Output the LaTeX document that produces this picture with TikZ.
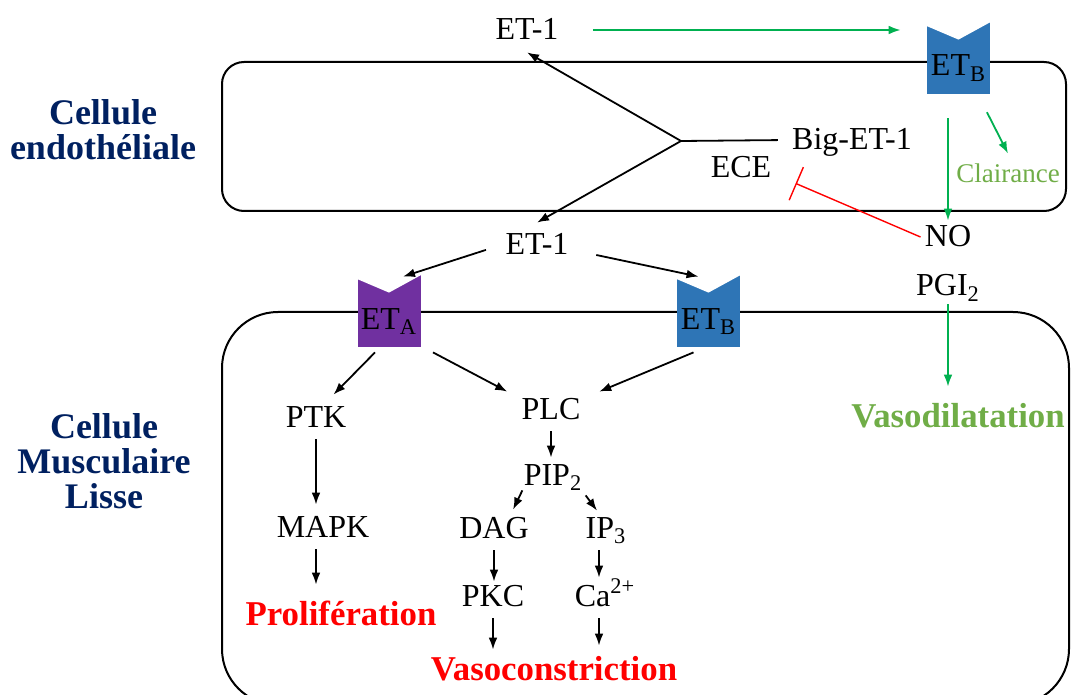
\documentclass[tikz,border=0pt]{standalone}
\usepackage{fontspec}
\setmainfont{Liberation Serif}
\usepackage{tikz}
\usetikzlibrary{arrows.meta}

\definecolor{bleurec}{HTML}{2E75B6}
\definecolor{violetrec}{HTML}{7030A0}
\definecolor{marine}{HTML}{002060}
\definecolor{vertfl}{HTML}{00B050}
\definecolor{vertclair}{HTML}{70AD47}
\definecolor{rouge}{HTML}{FF0000}

\begin{document}
\begin{tikzpicture}[x=0.5pt,y=-0.5pt,
    mol/.style={font=\fontsize{16}{19}\selectfont, anchor=base, inner xsep=2pt, inner ysep=6pt, text height=10pt, text depth=0pt},
    fin/.style={font=\fontsize{17.4}{20}\selectfont\bfseries, anchor=base, inner xsep=2pt, inner ysep=9pt, text height=11pt, text depth=0pt},
    cellule/.style={font=\fontsize{18}{17.5}\selectfont\bfseries, text=marine, align=center},
    recep/.style={fill=#1, anchor=base, font=\fontsize{16}{19}\selectfont, minimum width=31.5pt, inner sep=0pt, text height=27pt, text depth=9pt},
    membrane/.style={line width=1pt},
    trait/.style={line width=0.9pt},
    fl/.style={line width=0.9pt, -{Latex[length=6pt,width=4.4pt]}},
    vert/.style={line width=0.9pt, vertfl, -{Latex[length=6pt,width=4.4pt]}},
    inhib/.style={line width=0.7pt, rouge, -{Bar[width=18pt]}}]
    \clip (0,0) rectangle (1071,695);

    % membranes
    \draw[membrane, rounded corners=11pt] (222,62) rectangle (1066,211);
    \draw[membrane, rounded corners=28pt] (222,312) rectangle (1069,705);

    % recepteurs
    \node[recep=bleurec] (etbh) at (958.5,76) {ET\textsubscript{B}};
    \node[recep=violetrec] (eta) at (389,329) {ET\textsubscript{A}};
    \node[recep=bleurec] (etb) at (708.5,329) {ET\textsubscript{B}};
    \foreach \r in {etbh,eta,etb}
      \fill[white] ([shift={(-1,-1)}]\r.north west) -- ([shift={(-1,4)}]\r.north west)
        -- ([shift={(0,18)}]\r.north) -- ([shift={(1,0)}]\r.north east) -- ([shift={(1,-1)}]\r.north east) -- cycle;

    \node[cellule] (endo) at (103,130) {Cellule\\endothéliale};
    \node[cellule] (musc) at (104,461) {Cellule\\Musculaire\\Lisse};

    \node[mol] (et1h) at (527,40) {ET-1};
    \node[mol] (big) at (852,150) {Big-ET-1};
    \node[mol] (ece) at (741,178) {ECE};
    \node[mol] (et1b) at (537,255) {ET-1};
    \node[mol] (no) at (948,247) {NO};
    \node[mol] (pgi) at (948,296) {PGI\textsubscript{2}};
    \node[mol, font=\fontsize{13.5}{16}\selectfont, text height=8.5pt, text=vertclair] (clair) at (1008,183) {Clairance};
    \node[fin, text=vertclair] (vdil) at (958,427) {Vasodilatation};

    \node[mol] (ptk) at (316,427) {PTK};
    \node[mol] (mapk) at (323,537) {MAPK};
    \node[fin, text=rouge] (prolif) at (341,625) {Prolifération};
    \node[mol] (plc) at (551,419) {PLC};
    \node[mol] (pip) at (553,485) {PIP\textsubscript{2}};
    \node[mol] (dag) at (494,538) {DAG};
    \node[mol] (ip) at (606,538) {IP\textsubscript{3}};
    \node[mol] (pkc) at (493,606) {PKC};
    \node[mol] (ca) at (605,606) {Ca\textsuperscript{2+}};
    \node[fin, text=rouge] (vcon) at (554,680) {Vasoconstriction};

    % cellule endotheliale
    \coordinate (jn) at (681,141);
    \draw[vert, shorten <=15pt, shorten >=13pt] (et1h.east) -- (et1h.east -| etbh.west);
    \draw[trait, shorten <=5pt] (big.west) -- (jn);
    \draw[fl] (jn) -- (et1h.south);
    \draw[fl] (jn) -- (et1b.north);
    \draw[inhib] (no.west) -- ([shift={(20,-7)}]ece.south east);
    \draw[vert, shorten <=12pt, shorten >=-3pt] (no.north |- etbh.south) -- (no.north);
    \draw[vert, shorten <=10pt] (etbh.-62) -- (clair.north);
    \draw[vert, shorten <=-2pt] (pgi.south) -- (pgi.south |- vdil.north);

    % cellule musculaire lisse
    \draw[fl, shorten <=8pt] (et1b.west) -- ([shift={(14,2)}]eta.north);
    \draw[fl, shorten <=12pt] (et1b.-8) -- ([shift={(-10,2)}]etb.north);
    \draw[fl] ([shift={(-14,5)}]eta.south) -- (ptk.52);
    \draw[fl] ([shift={(44,5)}]eta.south) -- ([shift={(-10,5)}]plc.north west);
    \draw[fl] ([shift={(-15,5)}]etb.south) -- ([shift={(14.5,5)}]plc.north east);
    \draw[fl] (ptk.south) -- (ptk.south |- mapk.north);
    \draw[fl] (ptk.south |- mapk.south) -- (ptk.south |- prolif.north);
    \draw[fl, shorten >=-2.5pt] (plc.south) -- (plc.south |- pip.north);
    \draw[fl] ([shift={(3,-7)}]pip.south west) -- ([shift={(-20,4)}]dag.north east);
    \draw[fl] ([shift={(-1,-2)}]pip.south east) -- ([shift={(-9,5)}]ip.north);
    \draw[fl, shorten >=-4pt] (dag.south) -- (dag.south |- pkc.north);
    \draw[fl, shorten >=-2pt] ([shift={(-7,0)}]ip.south) -- ([shift={(-7,0)}]ip.south |- ca.north);
    \draw[fl, shorten >=-5pt] (pkc.south) -- (pkc.south |- vcon.north);
    \draw[fl, shorten >=-3pt] ([shift={(-6,0)}]ca.south) -- ([shift={(-6,0)}]ca.south |- vcon.north);
\end{tikzpicture}
\end{document}
